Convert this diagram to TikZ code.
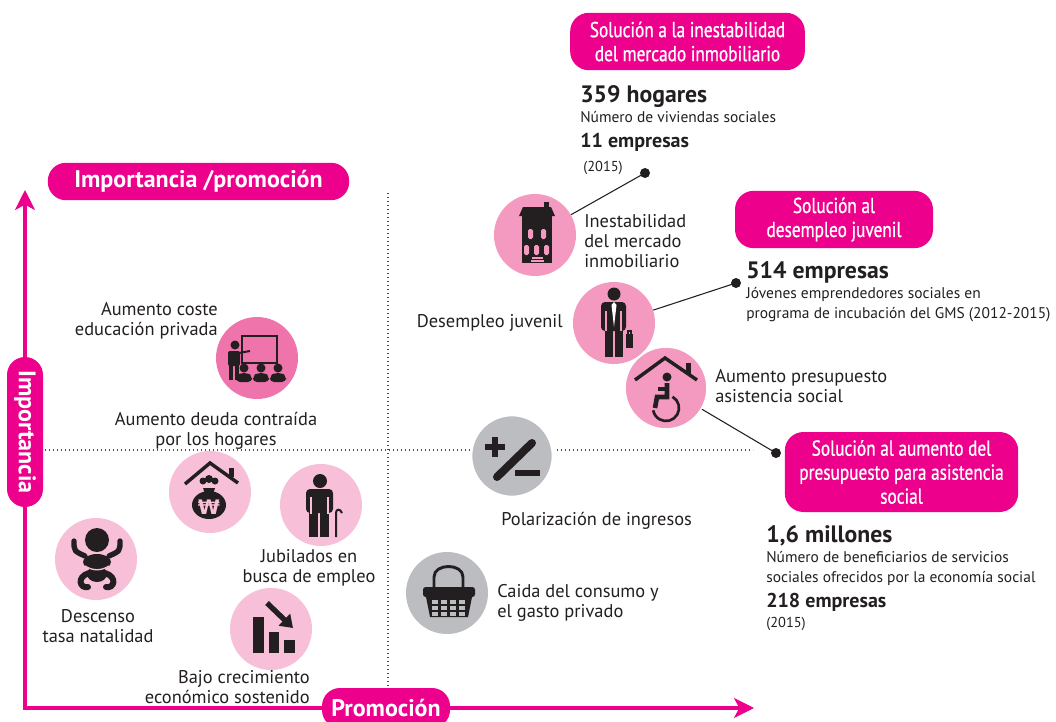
\documentclass[tikz,border=0pt]{standalone}
\usepackage{fontspec}
\setmainfont{PT Sans}
\newfontfamily\condfont[FakeStretch=0.8,FakeBold=0.8]{PT Sans}
\newfontfamily\symfont{DejaVu Sans}
\usetikzlibrary{positioning,arrows.meta}
\definecolor{mag}{HTML}{EC008C}
\definecolor{ink}{HTML}{231F20}
\definecolor{pinkA}{HTML}{F074AC}
\definecolor{pinkB}{HTML}{F49AC1}
\definecolor{pinkC}{HTML}{F7C0D8}
\definecolor{greyC}{HTML}{BCBDC0}
\begin{document}
\begin{tikzpicture}[x=0.75pt,y=-0.75pt,
  lbl/.style={text=ink,inner sep=0pt,font=\fontsize{13.8}{15}\selectfont},
  note/.style={text=ink,inner sep=0pt,align=left,font=\fontsize{11.6}{15}\selectfont},
  big/.style={text=ink,inner sep=0pt,font=\bfseries\fontsize{17.8}{18}\selectfont},
  mid/.style={text=ink,inner sep=0pt,font=\bfseries\fontsize{15}{16}\selectfont},
  yr/.style={text=ink,inner sep=0pt,font=\fontsize{10.8}{11}\selectfont},
  pill/.style={fill=mag,text=white,rounded corners=14pt,align=center,inner sep=0pt,font=\condfont\fontsize{16.2}{18}\selectfont},
  tag/.style={fill=mag,text=white,rounded corners=13.5pt,inner sep=0pt,font=\bfseries\fontsize{18}{18}\selectfont},
  bub/.style={circle,inner sep=0pt,minimum size=61.5pt},
  link/.style={ink,line width=0.8pt},
  grid/.style={ink!80,line width=1.1pt,dash pattern=on 1.1pt off 1.9pt},
  axis/.style={mag,line width=2.3pt,{Stealth[length=15pt,width=15pt,inset=4pt]}-{Stealth[length=15pt,width=15pt,inset=4pt]}}]
\useasboundingbox (0,0) rectangle (1056,721);

% cuadrantes
\draw[grid] (45,450) -- (753,450);
\draw[grid] (388,193) -- (388,700);

% circulos
\node[bub,fill=pinkA] (edu) at (257,358) {};
\node[bub,fill=pinkC] (debt) at (210,492) {};
\node[bub,fill=pinkC] (old) at (321,505) {};
\node[bub,fill=pinkC] (baby) at (96,559) {};
\node[bub,fill=pinkC] (slow) at (271,629) {};
\node[bub,fill=pinkB] (bld) at (535,235) {};
\node[bub,fill=pinkB] (job) at (614,323) {};
\node[bub,fill=pinkB,draw=white,line width=1.2pt] (care) at (666,388) {};
\node[bub,fill=greyC,draw=white,line width=2pt] (pol) at (512,456) {};
\node[bub,fill=greyC] (cons) at (447,593) {};

% iconos
\begin{scope}[shift={(edu.center)}]
  \draw[ink,line width=2pt] (-15,-22) rectangle (20,5);
  \fill[ink] (-22,-13) circle (4.5);
  \fill[ink,rounded corners=1.5] (-29,-7) rectangle (-17,8);
  \fill[ink] (-28,6) rectangle (-24,22);
  \fill[ink] (-22,6) rectangle (-18,22);
  \draw[ink,line width=1.5pt] (-18,-5) -- (-7,-7);
  \foreach \dx in {-13,4,21} {
    \fill[ink] (\dx,10) circle (4.5);
    \fill[ink,rounded corners=3] (\dx-8,24) -- (\dx-8,18) -- (\dx-4,15) -- (\dx+4,15) -- (\dx+8,18) -- (\dx+8,24) -- cycle;
  }
\end{scope}
\begin{scope}[shift={(debt.center)}]
  \draw[ink,line width=2.6pt] (-25,-8) -- (0,-29) -- (28,-9);
  \fill[ink] (19,-24) rectangle (24,-15);
  \fill[ink] (-1,13) ellipse (17 and 14);
  \fill[ink] (-7,-4) -- (5,-4) -- (3,2) -- (-5,2) -- cycle;
  \fill[ink] (-7,-11) circle (3.5);
  \fill[ink] (-1,-13) circle (4);
  \fill[ink] (5,-11) circle (3.5);
  \node[text=pinkC,inner sep=0pt,font=\symfont\bfseries\fontsize{15}{15}\selectfont] (won) at (-1,15) {₩};
\end{scope}
\begin{scope}[shift={(old.center)}]
  \fill[ink] (-1,-24) circle (7);
  \fill[ink,rounded corners=3] (-15,-16) rectangle (12,8);
  \fill[ink] (-12,6) rectangle (-3,32);
  \fill[ink] (-1,6) rectangle (8,32);
  \draw[pinkC,line width=1pt] (-10,-8) -- (-10,9);
  \draw[pinkC,line width=1pt] (7,-8) -- (7,9);
  \draw[ink,line width=1.5pt] (15,32) -- (15,8) .. controls (15,4) and (19,3) .. (21,8);
\end{scope}
\begin{scope}[shift={(baby.center)}]
  \fill[ink] (1,-19) circle (12);
  \draw[ink,line width=4pt,line cap=round] (-22,-18) .. controls (-22,-8) .. (-11,-3);
  \draw[ink,line width=4pt,line cap=round] (24,-18) .. controls (24,-8) .. (13,-3);
  \fill[ink] (1,3) ellipse (14 and 8);
  \fill[ink] (1,15) ellipse (10 and 8);
  \draw[ink,line width=4.5pt,line cap=round] (-7,14) .. controls (-20,18) and (-16,30) .. (-8,28);
  \draw[ink,line width=4.5pt,line cap=round] (9,14) .. controls (22,18) and (18,30) .. (10,28);
  \draw[pinkC,line width=1pt] (-11,7) .. controls (-3,12) and (5,12) .. (13,7);
\end{scope}
\begin{scope}[shift={(slow.center)}]
  \fill[ink] (-18,-12) rectangle (-7,24);
  \fill[ink] (-2,3) rectangle (8,24);
  \fill[ink] (13,11) rectangle (24,24);
  \draw[ink,line width=4pt,-{Triangle[length=9pt,width=12pt]}] (-4,-26) -- (22,-1);
\end{scope}
\begin{scope}[shift={(bld.center)}]
  \fill[ink] (-13,-19) rectangle (17,28);
  \fill[ink] (-16,-19) -- (-12,-28) -- (16,-28) -- (20,-19) -- cycle;
  \fill[ink] (9,-33) rectangle (14,-27);
  \foreach \wx/\wy in {-7/-6,6/-6,-11/10,-1/10,9/10}
    \fill[pinkB,rounded corners=1.2] (\wx,\wy) rectangle (\wx+5,\wy+10);
  \draw[pinkB,line width=0.8pt] (-3,23) -- (8,23) (-4,26) -- (9,26);
\end{scope}
\begin{scope}[shift={(job.center)}]
  \fill[ink] (0,-29) circle (6.5);
  \fill[ink,rounded corners=3] (-13,-21) rectangle (12,8);
  \fill[ink] (-9,6) rectangle (-1,34);
  \fill[ink] (1,6) rectangle (9,34);
  \draw[pinkB,line width=1pt] (-8,-12) -- (-8,8) (7,-12) -- (7,8);
  \fill[white] (0,-21) -- (-2.5,-18) -- (0,4) -- (2.5,-18) -- cycle;
  \fill[ink] (12,11) rectangle (19,25);
  \draw[ink,line width=1pt] (14,11) -- (14,8) -- (17,8) -- (17,11);
\end{scope}
\begin{scope}[shift={(care.center)}]
  \draw[ink,line width=2.6pt] (-31,-8) -- (-1,-30) -- (31,-8);
  \fill[ink] (20,-25) rectangle (25,-14);
  \fill[ink] (1,-11) circle (4.5);
  \draw[ink,line width=3.5pt] (1,-5) -- (1,9) -- (-9,9) -- (-11,20);
  \draw[ink,line width=2.5pt] (1,1) -- (-8,1);
  \draw[ink,line width=2pt] (0,20) ++(-60:13) arc[start angle=-60,end angle=170,radius=13];
\end{scope}
\begin{scope}[shift={(pol.center)}]
  \draw[ink,line width=5pt] (-27,-9) -- (-7,-9) (-17,-19) -- (-17,1);
  \draw[ink,line width=6pt,line cap=round] (-15,21) -- (20,-13);
  \draw[ink,line width=5pt] (3,17) -- (28,17);
\end{scope}
\begin{scope}[shift={(cons.center)}]
  \draw[ink,line width=2.2pt] (-13,-3) -- (-13,-16) .. controls (-13,-30) and (16,-30) .. (16,-16) -- (16,-3);
  \fill[ink,rounded corners=2] (-24,-6) rectangle (28,4);
  \fill[ink] (-21,4) -- (25,4) -- (21,24) -- (-17,24) -- cycle;
  \foreach \gx in {-15,-6,3,12}
    \foreach \gy in {7,13,19}
      \fill[greyC] (\gx,\gy) rectangle (\gx+6,\gy+3.5);
  \fill[ink] (-13,-3) circle (3.5) (16,-3) circle (3.5);
\end{scope}

% etiquetas de los circulos (base = ultima linea)
\node[lbl,align=right,anchor=base east] (eduTxt) at (218,335) {Aumento coste\\educación privada};
\node[lbl,align=center,anchor=base] (debtTxt) at (216,445) {Aumento deuda contraída\\por los hogares};
\node[lbl,align=center,anchor=base] (oldTxt) at (309,582) {Jubilados en\\busca de empleo};
\node[lbl,align=center,anchor=base] (babyTxt) at (98,642) {Descenso\\tasa natalidad};
\node[lbl,align=right,anchor=base east] (slowTxt) at (310,703) {Bajo crecimiento\\económico sostenido};
\node[lbl,align=left,anchor=base west] (bldTxt) at (584,267) {Inestabilidad\\del mercado\\inmobiliario};
\node[lbl,anchor=base east] (jobTxt) at (563,327) {Desempleo juvenil};
\node[lbl,align=left,anchor=base west] (careTxt) at (715,402) {Aumento presupuesto\\asistencia social};
\node[lbl,anchor=base west] (polTxt) at (501,525) {Polarización de ingresos};
\node[lbl,align=left,anchor=base west] (consTxt) at (497,617) {Caida del consumo y\\el gasto privado};

% soluciones
\node[pill,minimum width=176pt,minimum height=43pt] (sol1) at (687.5,41.5) {Solución a la inestabilidad\\del mercado inmobiliario};
\node[big,anchor=base west] (hog) at (580,102) {359 hogares};
\node[note,anchor=base west] (hogTxt) at (580,122) {Número de viviendas sociales};
\node[mid,anchor=base west] (emp1) at (580,147) {11 empresas};
\node[yr,anchor=base west] (yr1) at (583,171) {(2015)};

\node[pill,minimum width=148.5pt,minimum height=43pt] (sol2) at (834,219.5) {Solución al\\desempleo juvenil};
\node[big,anchor=base west] (emp2) at (746,278) {514 empresas};
\node[note,anchor=base west] (emp2Txt) at (746,318) {Jóvenes emprendedores sociales en\\programa de incubación del GMS (2012-2015)};

\node[pill,minimum width=175pt,minimum height=60pt] (sol3) at (901.5,472) {Solución al aumento del\\presupuesto para asistencia\\social};
\node[big,anchor=base west] (mill) at (766,542) {1,6 millones};
\node[note,anchor=base west] (millTxt) at (766,582) {Número de beneficiarios de servicios\\sociales ofrecidos por la economía social};
\node[mid,anchor=base west] (emp3) at (766,607) {218 empresas};
\node[yr,anchor=base west] (yr3) at (766,627) {(2015)};

% conectores
\coordinate (d1) at (645,173);
\coordinate (d2) at (736,283);
\coordinate (d3) at (776,453);
\draw[link] (bld) -- (d1);
\draw[link] (job) -- (d2);
\draw[link] (care) -- (d3);
\foreach \d in {d1,d2,d3}
  \fill[ink] (\d) circle (5);

% ejes
\coordinate (org) at (25,708);
\coordinate (ytip) at (25,190);
\coordinate (xtip) at (754,708);
\draw[axis] (ytip) -- (org) -- (xtip);
\node[tag,minimum width=226pt,minimum height=28pt] (title) at (198.5,181.5) {Importancia /promoción};
\node[tag,rotate=-90,minimum width=112.5pt,minimum height=27pt] (imp) at (25,432) {Importancia};
\node[tag,minimum width=96pt,minimum height=30pt] (prom) at (386,708) {Promoción};
\end{tikzpicture}
\end{document}
